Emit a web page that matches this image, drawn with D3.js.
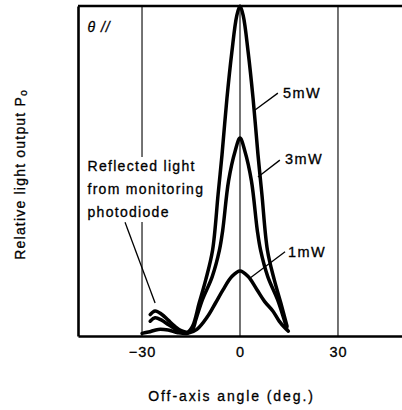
<!DOCTYPE html>
<html>
<head>
<meta charset="utf-8">
<script src="https://cdn.jsdelivr.net/npm/d3@7"></script>
<style>
  body { margin: 0; background: #fff; }
  svg text { font-family: "Liberation Sans", Arial, sans-serif; fill: #000; stroke: #000; stroke-width: 0.3; }
  .curve { fill: none; stroke: #000; stroke-width: 3.5; stroke-linejoin: round; stroke-linecap: round; }
  .grid { stroke: #000; stroke-width: 1.1; }
  .leader { stroke: #000; stroke-width: 1.3; fill: none; }
  .axis path { stroke: #000; stroke-width: 2.6; }
</style>
</head>
<body>
<div id="chart"></div>
<script>
// 0. data (angle in deg., relative output 0..1)
var angle5 = [-27.5, -26, -24, -22, -20, -18, -16, -14.5, -12.5, -10.5, -8.4, -6.7, -5.5, -4, -2.5, -1, 0, 1, 2.5, 4, 5.5, 6.7, 8.4, 10.5, 12.5, 14.4];
var power5 = [0.065, 0.076, 0.066, 0.048, 0.03, 0.016, 0.012, 0.03, 0.1, 0.17, 0.26, 0.43, 0.55, 0.72, 0.86, 0.97, 1.0, 0.97, 0.86, 0.72, 0.55, 0.43, 0.26, 0.17, 0.1, 0.03];

var angle3 = [-27.5, -26, -24, -22, -20, -18, -16, -14.5, -13.5, -11.5, -8.5, -6.3, -5.3, -3.5, -1.5, 0, 1.5, 3.5, 5.3, 6.3, 8.5, 11.5, 13.5, 14.3];
var power3 = [0.045, 0.055, 0.048, 0.035, 0.022, 0.012, 0.01, 0.02, 0.05, 0.11, 0.18, 0.26, 0.32, 0.47, 0.56, 0.6, 0.56, 0.47, 0.32, 0.26, 0.18, 0.11, 0.05, 0.025];

var angle1 = [-30, -28, -25, -22, -19, -16, -13.2, -10, -7.5, -5.2, -2.5, 0, 2.5, 5.2, 7.5, 10.1, 12, 13.8, 14.8];
var power1 = [0.008, 0.012, 0.02, 0.018, 0.01, 0.008, 0.02, 0.058, 0.1, 0.14, 0.18, 0.197, 0.18, 0.14, 0.105, 0.075, 0.045, 0.024, 0.015];

var xTicks = [-30, 0, 30];
var xTickLabels = ["\u221230", "0", "30"];
var seriesLabels = ["5mW", "3mW", "1mW"];
var noteLines = ["Reflected light", "from monitoring", "photodiode"];

// 1. sizes
var W = 402, H = 410;
var margin = {top: 6, right: 0, bottom: 74, left: 78},
    width = W - margin.left - margin.right,
    height = H - margin.top - margin.bottom;

var svg = d3.select("#chart").append("svg")
    .attr("width", W)
    .attr("height", H);

var g = svg.append("g")
    .attr("transform", "translate(" + margin.left + "," + margin.top + ")");

// 2. scales
var x = d3.scaleLinear().domain([-49.6, 49.6]).range([0, width]);
var y = d3.scaleLinear().domain([0, 1]).range([height, 0]);

// 3. grid lines
g.selectAll(".grid")
    .data(xTicks)
    .enter().append("line")
    .attr("class", "grid")
    .attr("x1", function(d) { return x(d); })
    .attr("x2", function(d) { return x(d); })
    .attr("y1", 0)
    .attr("y2", height);

// 4. note text with white box behind (breaks the -30 grid line)
var note = g.append("g");
var noteBox = note.append("rect").attr("fill", "#fff");
var noteText = note.append("text")
    .attr("font-size", 14)
    .attr("letter-spacing", 1.3);
noteText.selectAll("tspan")
    .data(noteLines)
    .enter().append("tspan")
    .attr("x", x(-46.7))
    .attr("y", function(d, i) { return y(0.5) + i * 23; })
    .text(function(d) { return d; });
var bb = noteText.node().getBBox();
noteBox.attr("x", bb.x - 2).attr("y", bb.y - 1).attr("width", bb.width + 4).attr("height", bb.height + 3);

// 5. frame: top, left, bottom
g.append("line")
    .attr("x1", 0).attr("x2", width).attr("y1", 0).attr("y2", 0)
    .attr("stroke", "#000").attr("stroke-width", 2.6);

g.append("g")
    .attr("class", "axis")
    .call(d3.axisLeft(y).tickValues([]).tickSizeOuter(0));

var xAxis = g.append("g")
    .attr("class", "axis")
    .attr("transform", "translate(0," + height + ")")
    .call(d3.axisBottom(x).tickValues(xTicks).tickSize(0).tickSizeOuter(0)
        .tickFormat(function(d, i) { return xTickLabels[i]; }));
xAxis.selectAll("text")
    .attr("font-size", 14.5)
    .attr("letter-spacing", 1)
    .attr("font-family", "Liberation Sans, Arial, sans-serif")
    .attr("dy", 0)
    .attr("y", 21);

// 6. curves
var line = d3.line()
    .x(function(d) { return x(d[0]); })
    .y(function(d) { return y(d[1]); })
    .curve(d3.curveCatmullRom.alpha(0.5));

[[angle5, power5], [angle3, power3], [angle1, power1]].forEach(function(s) {
  g.append("path")
      .datum(d3.zip(s[0], s[1]))
      .attr("class", "curve")
      .attr("d", line);
});

// 7. leaders and series labels
var leaders = [
  {from: [11.6, 0.736], to: [4.6, 0.685], text: [13.2, 0.72]},
  {from: [12.2, 0.533], to: [5.5, 0.482], text: [13.8, 0.52]},
  {from: [13.8, 0.255], to: [3.1, 0.176], text: [14.7, 0.24]}
];
leaders.forEach(function(d, i) {
  g.append("line")
      .attr("class", "leader")
      .attr("x1", x(d.from[0])).attr("y1", y(d.from[1]))
      .attr("x2", x(d.to[0])).attr("y2", y(d.to[1]));
  g.append("text")
      .attr("x", x(d.text[0]))
      .attr("y", y(d.text[1]))
      .attr("font-size", 14.5)
      .attr("letter-spacing", 1.4)
      .text(seriesLabels[i]);
});

g.append("line")
    .attr("class", "leader")
    .attr("x1", x(-35.2)).attr("y1", y(0.345))
    .attr("x2", x(-26)).attr("y2", y(0.1));

// theta label
g.append("text")
    .attr("x", x(-46.7))
    .attr("y", y(0.92))
    .attr("font-size", 14)
    .attr("font-style", "italic")
    .attr("letter-spacing", 1)
    .text("\u03b8 //");

// 8. axis titles
svg.append("text")
    .attr("x", margin.left + x(-2.6))
    .attr("y", 401)
    .attr("text-anchor", "middle")
    .attr("font-size", 14)
    .attr("letter-spacing", 1.9)
    .text("Off-axis angle (deg.)");

var yt = svg.append("text")
    .attr("transform", "translate(25," + (margin.top + y(0.49)) + ") rotate(-90)")
    .attr("text-anchor", "middle")
    .attr("font-size", 14)
    .attr("letter-spacing", 1.2);
yt.append("tspan").text("Relative light output P");
yt.append("tspan").attr("font-size", 10.5).attr("dy", 2).text("o");
</script>
</body>
</html>
